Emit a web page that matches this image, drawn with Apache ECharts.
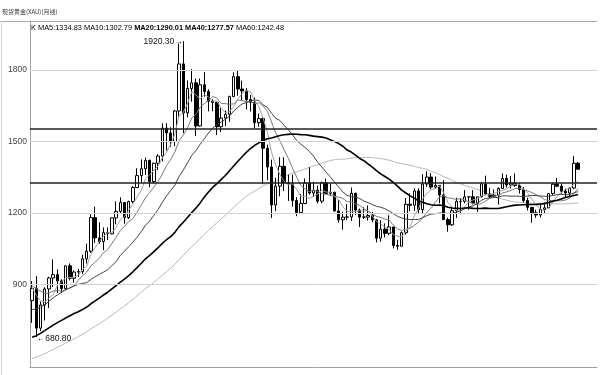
<!DOCTYPE html>
<html>
<head>
<meta charset="utf-8">
<script src="https://cdn.jsdelivr.net/npm/echarts@6/dist/echarts.min.js"></script>
<style>
html,body{margin:0;padding:0;background:#fff;}
#c{width:600px;height:375px;}
</style>
</head>
<body>
<div id="c"></div>
<script>
// ---- data ----
var months = [];
(function(){ var y=2008,m=9; for(var i=0;i<131;i++){ months.push(y+'-'+(m<10?'0':'')+m); m++; if(m>12){m=1;y++;} } })();
var padCategories = ['', '', '', ''];
// [open, close, low, high]
var candles = [
[833,884,740,915],[884,718,680.8,936],[718,815,705,829],[815,882,750,889],
[882,928,802,933],[928,942,890,1006],[942,916,865,964],[916,884,865,923],[884,979,877,980],[979,927,918,989],
[927,953,908,960],[953,955,932,966],[955,1008,945,1025],[1008,1040,989,1072],[1040,1181,1033,1195],[1181,1096,1075,1227],
[1096,1081,1072,1162],[1081,1118,1045,1140],[1118,1113,1087,1140],[1113,1180,1111,1181],[1180,1207,1153,1249],[1207,1244,1197,1266],
[1244,1181,1155,1245],[1181,1248,1175,1252],[1248,1307,1241,1313],[1307,1357,1306,1388],[1357,1386,1330,1425],[1386,1421,1360,1432],
[1421,1332,1308,1424],[1332,1409,1325,1411],[1409,1439,1381,1447],[1439,1556,1417,1576],[1556,1536,1462,1577],[1536,1500,1478,1560],
[1500,1628,1480,1632],[1628,1825,1603,1911],[1825,1620,1535,1920.3],[1620,1722,1601,1756],[1722,1746,1667,1803],[1746,1565,1523,1764],
[1565,1738,1562,1764],[1738,1710,1688,1791],[1710,1669,1626,1719],[1669,1664,1627,1677],[1664,1562,1527,1669],[1562,1598,1540,1640],
[1598,1614,1565,1630],[1614,1688,1583,1692],[1688,1772,1686,1790],[1772,1720,1692,1796],[1720,1712,1672,1755],[1712,1676,1635,1723],
[1676,1664,1626,1695],[1664,1579,1555,1684],[1579,1596,1562,1617],[1596,1472,1321,1605],[1472,1393,1338,1487],[1393,1234,1180,1424],
[1234,1313,1208,1348],[1313,1396,1270,1434],[1396,1327,1292,1434],[1327,1323,1251,1361],[1323,1253,1227,1361],[1253,1202,1187,1267],
[1202,1240,1202,1280],[1240,1326,1238,1345],[1326,1284,1277,1392],[1284,1296,1268,1331],[1296,1250,1240,1315],[1250,1327,1241,1332],
[1327,1282,1280,1345],[1282,1287,1273,1324],[1287,1209,1206,1290],[1209,1172,1160,1255],[1172,1183,1131,1206],[1183,1184,1170,1238],
[1184,1283,1167,1307],[1283,1213,1192,1285],[1213,1183,1142,1219],[1183,1183,1175,1224],[1183,1190,1169,1232],[1190,1172,1162,1205],
[1172,1095,1077,1175],[1095,1133,1080,1170],[1133,1115,1098,1157],[1115,1142,1107,1191],[1142,1064,1052,1142],[1064,1061,1046,1088],
[1061,1118,1061,1123],[1118,1237,1110,1263],[1237,1233,1207,1283],[1233,1293,1209,1304],[1293,1215,1200,1304],[1215,1322,1200,1363],
[1322,1351,1310,1375],[1351,1309,1301,1367],[1309,1316,1302,1353],[1316,1276,1241,1317],[1276,1173,1171,1338],[1173,1151,1122,1181],
[1151,1210,1146,1220],[1210,1249,1180,1264],[1249,1249,1195,1262],[1249,1268,1241,1296],[1268,1268,1214,1270],[1268,1242,1236,1296],
[1242,1268,1205,1270],[1268,1322,1266,1331],[1322,1280,1277,1357],[1280,1270,1261,1306],[1270,1275,1264,1299],[1275,1303,1236,1308],
[1303,1345,1303,1366],[1345,1318,1307,1361],[1318,1325,1303,1356],[1325,1316,1310,1366],[1316,1299,1282,1326],[1299,1253,1245,1309],
[1253,1224,1211,1265],[1224,1201,1160,1225],[1201,1192,1180,1214],[1192,1215,1182,1243],[1215,1222,1196,1237],[1222,1282,1221,1284],
[1282,1321,1276,1326],[1321,1313,1309,1347],[1313,1292,1281,1324],[1292,1284,1266,1303],[1284,1305,1267,1306],[1305,1409,1301,1439],
[1409,1384,1382,1414]
];
// monthly closes before the first visible candle (2003-10 .. 2008-08), used for the moving averages
var preCloses = [384,398,417,
400,396,427,388,394,395,391,408,416,428,453,438,
422,434,428,436,417,436,429,433,473,470,495,513,
569,556,583,654,643,614,633,624,599,604,646,632,
651,665,662,679,657,650,665,672,743,789,783,834,
923,972,916,864,886,928,912,833];
var maPeriods = [5, 10, 20, 40, 60];
var maLegendValues = ['1334.83', '1302.79', '1290.01', '1277.57', '1242.48'];
var yTickLabels = [900, 1200, 1500, 1800];
var levelLines = [1553, 1327];
var titleText = '现货黄金(XAU)(月线)';

// ---- derived ----
var categories = months.concat(padCategories);
var allCloses = preCloses.concat(candles.map(function(c){return c[1];}));
function calcMA(n){
  var out = [];
  for (var i = 0; i < candles.length; i++){
    var end = preCloses.length + i, s = 0, cnt = 0;
    for (var j = end - n + 1; j <= end; j++){ if (j >= 0){ s += allCloses[j]; cnt++; } }
    out.push(cnt === n ? +(s / n).toFixed(2) : null);
  }
  return out;
}
var maData = maPeriods.map(calcMA);
var hiIdx = 0, loIdx = 0;
candles.forEach(function(c, i){ if (c[3] > candles[hiIdx][3]) hiIdx = i; if (c[2] < candles[loIdx][2]) loIdx = i; });

var maColors = ['#a0a0a0', '#7a7a7a', '#444444', '#000000', '#b8b8b8'];
var maWidths = [1, 1, 1, 1.6, 1];
var numFont = '"Liberation Sans Narrow","Liberation Sans",sans-serif';

var series = [];
maPeriods.forEach(function(p, k){
  series.push({
    name: 'MA' + p, type: 'line', data: maData[k], symbol: 'none', smooth: false,
    lineStyle: {color: maColors[k], width: maWidths[k]}, silent: true, z: 3
  });
});
series[4].markLine = {
  silent: true, symbol: 'none', animation: false,
  lineStyle: {color: '#d2d2d2', width: 1, type: 'solid'},
  label: {show: true, position: 'start', distance: 3, color: '#444', fontSize: 8.5, fontFamily: numFont},
  data: yTickLabels.map(function(v){ return {yAxis: v}; })
};
series[4].z = 1;
series.push({
  name: 'K', type: 'candlestick', data: candles, barWidth: 3, z: 2,
  itemStyle: {color: '#ffffff', color0: '#000000', borderColor: '#000000', borderColor0: '#000000', borderWidth: 1},
  markPoint: {
    symbol: 'circle', symbolSize: 1, itemStyle: {color: 'rgba(0,0,0,0)'}, animation: false,
    label: {show: true, color: '#111', fontSize: 8.5, fontFamily: numFont},
    data: [
      {coord: [hiIdx, candles[hiIdx][3]], label: {position: 'left', distance: 0, formatter: candles[hiIdx][3].toFixed(2) + '→'}},
      {coord: [loIdx, candles[loIdx][2]], label: {position: 'right', distance: 0, offset: [0, 2], formatter: '←' + candles[loIdx][2].toFixed(2)}}
    ]
  },
  markLine: {
    silent: true, symbol: 'none', animation: false,
    lineStyle: {color: '#222', width: 1.5, type: 'solid'},
    label: {show: false},
    data: levelLines.map(function(v){ return {yAxis: v}; })
  }
});

var lf = 7.4;
var legendRich = {
  k: {color: '#000', fontSize: lf, fontFamily: numFont},
  m0: {color: '#a0a0a0', fontSize: lf, fontFamily: numFont},
  m1: {color: '#777', fontSize: lf, fontFamily: numFont},
  m2: {color: '#333', fontSize: lf, fontWeight: 'bold', fontFamily: numFont},
  m3: {color: '#000', fontSize: lf, fontWeight: 'bold', fontFamily: numFont},
  m4: {color: '#aaa', fontSize: lf, fontFamily: numFont}
};
var legendText = '{k|K} ' + maPeriods.map(function(p, k){ return '{m' + k + '|MA' + p + ':' + maLegendValues[k] + '}'; }).join(' ');

var chart = echarts.init(document.getElementById('c'), null, {renderer: 'canvas'});
chart.setOption({
  animation: false,
  backgroundColor: '#fff',
  grid: {left: 30, right: 3, top: 21, bottom: 8, containLabel: false},
  xAxis: {
    type: 'category', data: categories, boundaryGap: true,
    axisLine: {show: true, lineStyle: {color: '#a0a0a0', width: 1}},
    axisTick: {show: false}, axisLabel: {show: false}, splitLine: {show: false}
  },
  yAxis: {
    type: 'value', min: 555, max: 2005, scale: true,
    axisLine: {show: true, lineStyle: {color: '#a0a0a0', width: 1}},
    axisTick: {show: false}, axisLabel: {show: false}, splitLine: {show: false}
  },
  graphic: [
    {type: 'line', shape: {x1: 0, y1: 21.5, x2: 597, y2: 21.5}, style: {stroke: '#a8a8a8', lineWidth: 1}, silent: true},
    {type: 'line', shape: {x1: 1.5, y1: 21, x2: 1.5, y2: 375}, style: {stroke: '#d8d8d8', lineWidth: 1}, silent: true},
    {type: 'text', left: 2, top: 9, style: {text: titleText, fill: '#333', fontSize: 6, fontFamily: '"Noto Sans CJK SC",sans-serif'}, silent: true},
    {type: 'text', left: 31, top: 24, style: {text: legendText, rich: legendRich, fontSize: lf, fontFamily: numFont}, silent: true}
  ],
  series: series
});
</script>
</body>
</html>
